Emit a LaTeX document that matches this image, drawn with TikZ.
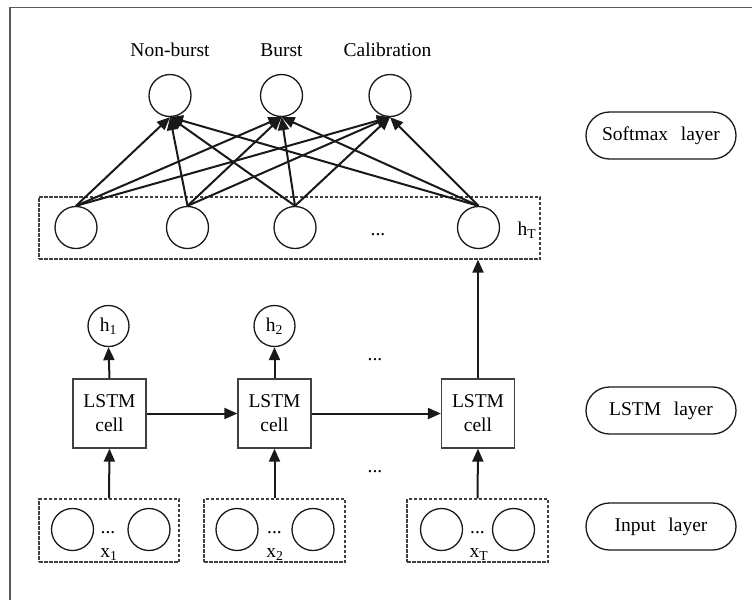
\documentclass[tikz,border=0pt]{standalone}
\usepackage{fontspec}
\setmainfont{Liberation Serif}
\usetikzlibrary{arrows.meta}
\begin{document}
\begin{tikzpicture}[x=1pt,y=-1pt,
  font=\fontsize{19.5}{24}\selectfont,
  neuron/.style={draw=black!90, line width=1.3pt, circle, minimum size=42pt, inner sep=0pt},
  cellbox/.style={draw=black!75, line width=1.3pt, minimum width=73pt, minimum height=69pt, align=center, inner sep=0pt},
  dbox/.style={draw=black!75, line width=1.3pt, dash pattern=on 3.5pt off 1.5pt, inner sep=0pt},
  pill/.style={draw=black!90, line width=1.3pt, rounded corners=23.5pt, minimum width=150pt, minimum height=47pt, inner sep=0pt},
  arr/.style={line width=2pt, black!90, -{Triangle[length=13pt,width=11pt]}},
  lbl/.style={anchor=base, inner sep=0pt}
]
\useasboundingbox (0,0) rectangle (752,600);
\draw[black!65, line width=1.8pt] (10,600) -- (10,7.5) -- (752,7.5);

% softmax layer
\node[neuron] (s1) at (170,95.5) {};
\node[neuron] (s2) at (281.5,95.5) {};
\node[neuron] (s3) at (390,95.5) {};
\node[lbl] (t1) at (170,56) {Non-burst};
\node[lbl] (t2) at (281.5,56) {Burst};
\node[lbl] (t3) at (387.5,56) {Calibration};

% hidden layer
\node[dbox, minimum width=501pt, minimum height=62pt] (hbox) at (289.5,228) {};
\node[neuron] (h1) at (76,227.5) {};
\node[neuron] (h2) at (187.5,227.5) {};
\node[neuron] (h3) at (295,227.5) {};
\node[neuron] (h4) at (478.5,227.5) {};
\node[lbl] (hdots) at (378,235) {...};
\node[lbl] (hT) at (527,235) {h\textsubscript{T}};

\foreach \h in {h1,h2,h3,h4}{
  \foreach \s in {s1,s2,s3}{
    \draw[arr] (\h.north) -- (\s.south);
  }
}

% LSTM layer
\node[cellbox] (c1) at (109.5,413.5) {LSTM\\cell};
\node[cellbox] (c2) at (274.5,413.5) {LSTM\\cell};
\node[cellbox] (c3) at (478,413.5) {LSTM\\cell};
\node[neuron, minimum size=41pt] (o1) at (108.5,326) {h\textsubscript{1}};
\node[neuron, minimum size=41pt] (o2) at (274.5,326) {h\textsubscript{2}};
\node[lbl] (ldots) at (375,360) {...};
\draw[arr] (c1.north) -- (o1.south);
\draw[arr] (c2.north) -- (o2.south);
\draw[arr] (c1.east) -- (c2.west);
\draw[arr] (c2.east) -- (c3.west);
\draw[arr] (c3.north) -- (c3.north |- hbox.south);

% input layer
\node[dbox, minimum width=140pt, minimum height=63pt] (i1) at (109,530.5) {};
\node[dbox, minimum width=141pt, minimum height=63pt] (i2) at (274.5,530.5) {};
\node[dbox, minimum width=141pt, minimum height=63pt] (i3) at (477.5,530.5) {};
\node[neuron] (a1) at (72.5,529.5) {};
\node[neuron] (b1) at (149,529.5) {};
\node[neuron] (a2) at (237,529.5) {};
\node[neuron] (b2) at (313,529.5) {};
\node[neuron] (a3) at (441.5,529.5) {};
\node[neuron] (b3) at (513.5,529.5) {};
\node[lbl] (d1) at (108,533) {...};
\node[lbl] (d2) at (274.5,533) {...};
\node[lbl] (d3) at (477.5,533) {...};
\node[lbl] (x1) at (109,557) {x\textsubscript{1}};
\node[lbl] (x2) at (275,557) {x\textsubscript{2}};
\node[lbl] (x3) at (479,557) {x\textsubscript{T}};
\node[lbl] (idots) at (375,472) {...};
\draw[arr] (i1.north) -- (c1.south);
\draw[arr] (i2.north) -- (c2.south);
\draw[arr] (i3.north) -- (c3.south);

% layer labels
\node[pill] (p1) at (661,135.5) {Softmax\hspace{0.4em} layer};
\node[pill] (p2) at (661,410.5) {LSTM\hspace{0.4em} layer};
\node[pill] (p3) at (661,526.5) {Input\hspace{0.4em} layer};
\end{tikzpicture}
\end{document}
